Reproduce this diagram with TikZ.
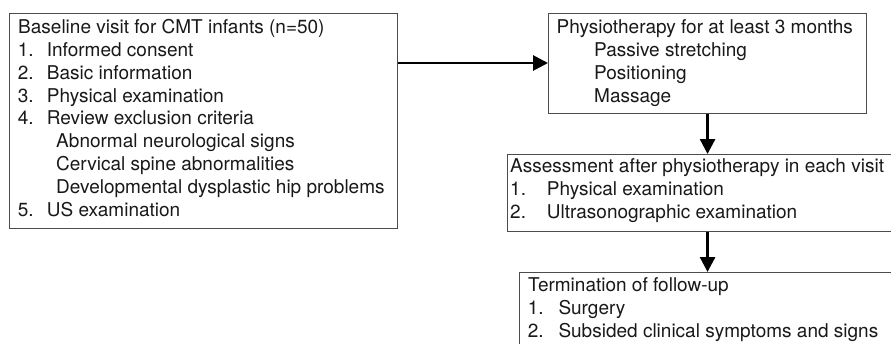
\documentclass[tikz,border=0pt]{standalone}
\usepackage{fontspec}
\setmainfont{TeX Gyre Heros}
\usetikzlibrary{arrows.meta}
\begin{document}
\begin{tikzpicture}[x=1pt,y=-1pt,
  box/.style={draw=black!70,line width=1.1pt,anchor=north west,inner sep=0pt},
  txt/.style={anchor=base west,inner sep=0pt,font=\fontsize{19}{22}\selectfont,text=black!90},
  arr/.style={line width=2.8pt,-{Triangle[length=15pt,width=15pt]}}]
\useasboundingbox (0,0) rectangle (891,343);
\clip (0,0) rectangle (891,343);
\fill[white] (0,0) rectangle (891,343);
% boxes
\node[box,minimum width=388pt,minimum height=215pt] (b1) at (9,13) {};
\node[box,minimum width=318pt,minimum height=100pt] (b2) at (548,13) {};
\node[box,minimum width=420pt,minimum height=77pt] (b3) at (507,154) {};
\node[box,minimum width=420pt,minimum height=100pt] (b4) at (518.5,272) {};
% box 1 text
\node[txt] (a0) at (18,33.3) {Baseline visit for CMT infants (n=50)};
\node[txt] (a1n) at (17.7,56.2) {1.};
\node[txt] (a1) at (46.7,56.2) {Informed consent};
\node[txt] (a2n) at (17.7,79.1) {2.};
\node[txt] (a2) at (46.7,79.1) {Basic information};
\node[txt] (a3n) at (17.7,102) {3.};
\node[txt] (a3) at (46.7,102) {Physical examination};
\node[txt] (a4n) at (17.7,124.9) {4.};
\node[txt] (a4) at (46.7,124.9) {Review exclusion criteria};
\node[txt] (a4a) at (56,147.8) {Abnormal neurological signs};
\node[txt] (a4b) at (56,170.7) {Cervical spine abnormalities};
\node[txt] (a4c) at (56,193.6) {Developmental dysplastic hip problems};
\node[txt] (a5n) at (17.7,216.5) {5.};
\node[txt] (a5) at (46.7,216.5) {US examination};
% box 2 text
\node[txt] (p0) at (556.5,33.3) {Physiotherapy for at least 3 months};
\node[txt] (p1) at (594,56.2) {Passive stretching};
\node[txt] (p2) at (594,79.1) {Positioning};
\node[txt] (p3) at (594,102) {Massage};
% box 3 text
\node[txt] (s0) at (510,172.5) {Assessment after physiotherapy in each visit};
\node[txt] (s1n) at (510,195.4) {1.};
\node[txt] (s1) at (546.7,195.4) {Physical examination};
\node[txt] (s2n) at (510,218.3) {2.};
\node[txt] (s2) at (546.7,218.3) {Ultrasonographic examination};
% box 4 text
\node[txt] (t0) at (528,291.5) {Termination of follow-up};
\node[txt] (t1n) at (527.7,314.4) {1.};
\node[txt] (t1) at (558.3,314.4) {Surgery};
\node[txt] (t2n) at (527.7,337.3) {2.};
\node[txt] (t2) at (558.3,337.3) {Subsided clinical symptoms and signs};
% connectors
\draw[arr] ([yshift=-50pt]b1.north east) -- ([yshift=-50pt]b2.north west);
\draw[arr] (b2.south) -- (b2.south |- b3.north);
\draw[arr] (b3.south -| b2.south) -- (b4.north -| b2.south);
\end{tikzpicture}
\end{document}
